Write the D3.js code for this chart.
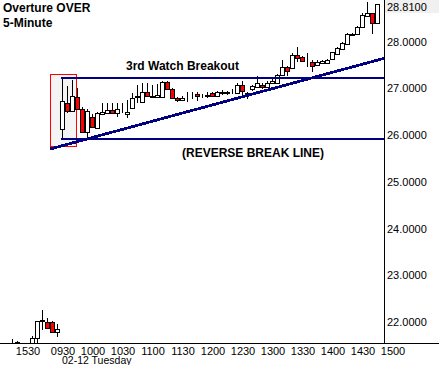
<!DOCTYPE html>
<html>
<head>
<meta charset="utf-8">
<script src="https://cdn.jsdelivr.net/npm/d3@7"></script>
<style>
  body { margin: 0; background: #fff; }
  svg { display: block; }
  text { font-family: "Liberation Sans", Arial, sans-serif; }
</style>
</head>
<body>
<svg id="chart"></svg>
<script>
// 5-minute bars, index 0 = 09:30 on 02-12, negative = previous session
let first_bar = -10;
let opens = [21.57, 21.56, 21.54, 21.54, 21.55, 21.65, 22.02, 22.00, 22.00, 21.79,
    26.12, 26.68, 26.51, 26.81, 26.55, 26.07, 26.39, 26.16, 26.44, 26.48,
    26.53, 26.48, 26.50, 26.45, 26.58, 26.82, 26.71, 26.93, 26.81, 26.82,
    26.82, 27.13, 26.98, 26.80, 26.75, 26.86, 26.85, 26.88, 26.83, 26.84,
    26.89, 26.84, 26.90, 26.89, 26.91, 26.89, 27.08, 26.88, 26.99, 27.02,
    27.08, 27.02, 27.12, 27.12, 27.28, 27.46, 27.43, 27.71, 27.66, 27.60,
    27.56, 27.50, 27.53, 27.55, 27.63, 27.73, 27.83, 27.94, 28.14, 28.15,
    28.30, 28.55, 28.60, 28.39];
let highs = [21.64, 21.59, 21.55, 21.55, 21.70, 22.03, 22.26, 22.09, 22.02, 21.96,
    27.19, 27.05, 27.18, 27.00, 26.60, 26.55, 26.45, 26.50, 26.68, 26.69,
    26.69, 26.69, 26.68, 26.75, 26.90, 27.07, 27.11, 27.11, 27.07, 27.09,
    27.15, 27.15, 27.00, 26.82, 26.83, 26.93, 26.93, 26.93, 26.87, 26.93,
    26.93, 26.95, 26.96, 26.95, 26.98, 27.12, 27.15, 26.93, 27.07, 27.26,
    27.12, 27.15, 27.20, 27.30, 27.60, 27.48, 27.76, 27.89, 27.70, 27.75,
    27.60, 27.60, 27.60, 27.62, 27.78, 27.89, 27.99, 28.18, 28.18, 28.33,
    28.60, 28.85, 28.62, 28.81];
let lows = [21.53, 21.55, 21.53, 21.53, 21.55, 21.56, 21.83, 21.85, 21.78, 21.68,
    25.91, 26.47, 26.50, 26.54, 26.04, 25.93, 26.15, 26.14, 26.42, 26.46,
    26.44, 26.39, 26.46, 26.36, 26.55, 26.68, 26.70, 26.82, 26.80, 26.80,
    26.80, 26.97, 26.78, 26.71, 26.73, 26.71, 26.77, 26.73, 26.79, 26.79,
    26.81, 26.82, 26.85, 26.86, 26.87, 26.87, 26.82, 26.76, 26.95, 27.00,
    26.98, 27.00, 27.10, 27.10, 27.26, 27.26, 27.41, 27.57, 27.56, 27.45,
    27.35, 27.48, 27.52, 27.53, 27.61, 27.71, 27.81, 27.92, 28.13, 28.14,
    28.28, 28.53, 28.15, 28.37];
let closes = [21.58, 21.57, 21.54, 21.55, 21.66, 22.03, 22.04, 21.87, 21.79, 21.85,
    26.73, 26.51, 26.83, 26.55, 26.07, 26.52, 26.18, 26.46, 26.50, 26.53,
    26.48, 26.55, 26.49, 26.50, 26.79, 26.84, 26.93, 26.84, 26.84, 26.85,
    27.13, 26.98, 26.80, 26.75, 26.80, 26.86, 26.86, 26.84, 26.83, 26.86,
    26.84, 26.93, 26.91, 26.91, 26.93, 27.08, 26.95, 26.90, 27.05, 27.12,
    27.02, 27.12, 27.16, 27.28, 27.46, 27.37, 27.71, 27.65, 27.59, 27.61,
    27.48, 27.57, 27.58, 27.60, 27.77, 27.87, 27.97, 28.15, 28.16, 28.32,
    28.57, 28.60, 28.39, 28.81];

let y_ticks = [22, 23, 24, 25, 26, 27, 28];
let x_tick_bars = [-7, 0, 6, 12, 18, 24, 30, 36, 42, 48, 54, 60, 66];
let x_tick_labels = ["1530", "0930", "1000", "1030", "1100", "1130", "1200",
    "1230", "1300", "1330", "1400", "1430", "1500"];
let day_label = "02-12 Tuesday";

// drawn study lines: [bar, price] end points
let breakout_line = [[-0.2, 27.21], [64.5, 27.21]];
let reverse_line = [[-0.2, 25.91], [64.5, 25.91]];
let trend_line = [[-2.4, 25.70], [64.4, 27.64]];
let box_bars = [-2.4, 2.7];
let box_prices = [25.765, 27.305];

let width = 439;
let height = 365;
let plot_right = 384;
let plot_bottom = 344;
let font_family = "'Liberation Sans', Arial, sans-serif";

let svg = d3.select("#chart")
    .attr("width", width)
    .attr("height", height)
    .style("background-color", "white");

let x = d3.scaleLinear().domain([0, 1]).range([62, 67]);
let y = d3.scaleLinear().domain([22, 28]).range([322, 41.5]);

svg.append("clipPath")
    .attr("id", "plot-clip")
    .append("rect")
    .attr("x", 0)
    .attr("y", 0)
    .attr("width", plot_right)
    .attr("height", plot_bottom);

let plot = svg.append("g").attr("clip-path", "url(#plot-clip)");

// red highlight box behind the opening bars
plot.append("rect")
    .attr("x", Math.round(x(box_bars[0])) + 0.5)
    .attr("y", Math.round(y(box_prices[1])) + 0.5)
    .attr("width", Math.round(x(box_bars[1]) - x(box_bars[0])))
    .attr("height", Math.round(y(box_prices[0]) - y(box_prices[1])))
    .attr("fill", "#f4f4f4")
    .attr("stroke", "red")
    .attr("stroke-width", 1)
    .attr("shape-rendering", "crispEdges");

let bars = d3.range(opens.length).map(i => ({
    bar: first_bar + i,
    open: opens[i],
    high: highs[i],
    low: lows[i],
    close: closes[i]
}));

let candle = plot.selectAll("g.candle")
    .data(bars)
    .join("g")
    .attr("class", "candle")
    .attr("shape-rendering", "crispEdges");

candle.append("line")
    .attr("x1", d => Math.round(x(d.bar)) + 0.5)
    .attr("x2", d => Math.round(x(d.bar)) + 0.5)
    .attr("y1", d => Math.round(y(d.high)))
    .attr("y2", d => Math.round(y(d.low)))
    .attr("stroke", "black")
    .attr("stroke-width", 1);

candle.append("rect")
    .attr("x", d => Math.round(x(d.bar)) - 1.5)
    .attr("y", d => Math.round(y(Math.max(d.open, d.close))) + 0.5)
    .attr("width", 4)
    .attr("height", d => Math.max(0, Math.round(y(Math.min(d.open, d.close))) - Math.round(y(Math.max(d.open, d.close)))))
    .attr("fill", d => d.close < d.open ? "red" : "white")
    .attr("stroke", "black")
    .attr("stroke-width", 1);

// study lines
let line = d3.line()
    .x(d => x(d[0]))
    .y(d => y(d[1]));

[breakout_line, reverse_line].forEach(pts => {
    plot.append("path")
        .attr("d", line(pts))
        .attr("fill", "none")
        .attr("stroke", "#000080")
        .attr("stroke-width", 2)
        .attr("shape-rendering", "crispEdges");
});

plot.append("path")
    .attr("d", line(trend_line))
    .attr("fill", "none")
    .attr("stroke", "#000080")
    .attr("stroke-width", 2.8)
    .attr("shape-rendering", "crispEdges");

// axes frame
svg.append("line")
    .attr("x1", 0).attr("x2", width)
    .attr("y1", plot_bottom - 0.5).attr("y2", plot_bottom - 0.5)
    .attr("stroke", "black")
    .attr("shape-rendering", "crispEdges");

svg.append("line")
    .attr("x1", plot_right + 0.5).attr("x2", plot_right + 0.5)
    .attr("y1", 0).attr("y2", plot_bottom)
    .attr("stroke", "black")
    .attr("shape-rendering", "crispEdges");

// price labels on the right
let y_axis = d3.axisRight(y)
    .tickValues(y_ticks)
    .tickFormat(d3.format(".4f"))
    .tickSize(0)
    .tickPadding(3);

svg.append("g")
    .attr("transform", "translate(" + plot_right + ",0)")
    .call(y_axis)
    .call(g => g.select(".domain").remove())
    .call(g => g.selectAll("text")
        .attr("font-size", "11px")
        .attr("font-family", font_family)
        .attr("fill", "black"));

// last price tag
let last_close = closes[closes.length - 1];
let last_y = Math.max(7, y(last_close));
svg.append("rect")
    .attr("x", plot_right + 1)
    .attr("y", last_y - 7)
    .attr("width", width - plot_right - 1)
    .attr("height", 13)
    .attr("fill", "#f0f0f0");

svg.append("text")
    .attr("x", plot_right + 3)
    .attr("y", last_y)
    .attr("dy", "0.35em")
    .attr("font-size", "11px")
    .attr("fill", "black")
    .text(d3.format(".4f")(last_close));

// time labels
let x_axis = d3.axisBottom(x)
    .tickValues(x_tick_bars)
    .tickFormat((d, i) => x_tick_labels[i])
    .tickSize(0)
    .tickPadding(3);

svg.append("g")
    .attr("transform", "translate(0.5," + plot_bottom + ")")
    .call(x_axis)
    .call(g => g.select(".domain").remove())
    .call(g => g.selectAll("text")
        .attr("font-size", "11px")
        .attr("font-family", font_family)
        .attr("fill", "black"));

svg.append("text")
    .attr("x", x(0))
    .attr("y", 363.5)
    .attr("font-size", "10.5px")
    .attr("fill", "black")
    .text(day_label);

// titles and annotations
svg.append("text")
    .attr("x", 3)
    .attr("y", 12)
    .attr("font-size", "12px")
    .attr("font-weight", "bold")
    .text("Overture OVER");

svg.append("text")
    .attr("x", 3)
    .attr("y", 27)
    .attr("font-size", "12px")
    .attr("font-weight", "bold")
    .text("5-Minute");

svg.append("text")
    .attr("x", 126)
    .attr("y", 70)
    .attr("font-size", "12px")
    .attr("font-weight", "bold")
    .text("3rd Watch Breakout");

svg.append("text")
    .attr("x", 182)
    .attr("y", 157)
    .attr("font-size", "12px")
    .attr("font-weight", "bold")
    .text("(REVERSE BREAK LINE)");
</script>
</body>
</html>
